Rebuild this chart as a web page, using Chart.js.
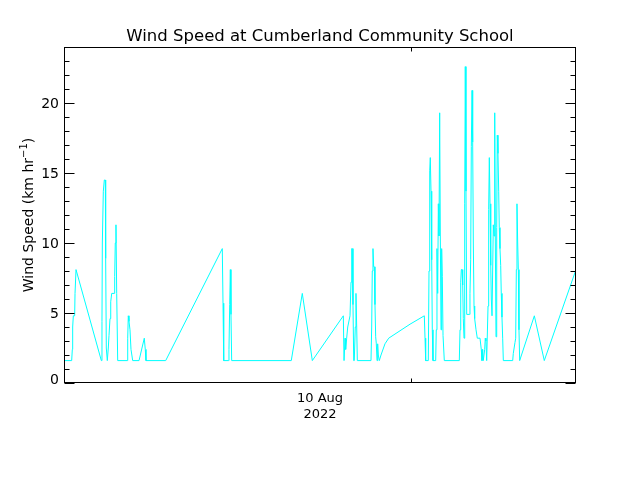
<!DOCTYPE html>
<html>
<head>
<meta charset="utf-8">
<title>Wind Speed at Cumberland Community School</title>
<script src="https://cdn.jsdelivr.net/npm/chart.js@4.4.0/dist/chart.umd.min.js"></script>
<style>
    html, body { margin: 0; padding: 0; background: #ffffff; }
    canvas { display: block; }
</style>
</head>
<body>
<canvas id="windChart" width="640" height="480"></canvas>
<script>
// === Data ===
// Time in hours from the left edge of the axis (axis spans 72 hours).
const timeHours = [
    0.14, 1.08, 1.17, 1.22, 1.31, 1.50, 1.55, 1.69,
    5.25, 5.34, 5.39, 5.53, 5.67, 5.81, 5.86, 5.95, 6.09, 6.23, 6.33, 6.47, 6.57, 6.71,
    7.07, 7.13, 7.21, 7.31, 7.41, 7.55,
    8.90, 8.96, 9.04, 9.14, 9.28, 9.42, 9.66,
    10.55, 11.29, 11.43, 11.53, 14.30,
    22.26, 22.36, 22.46, 23.10, 23.20, 23.30, 23.39, 23.48, 23.58,
    31.96, 33.51, 34.92,
    39.28, 39.38, 39.52, 39.61, 39.75, 39.90, 40.22, 40.36, 40.46, 40.54, 40.64, 40.74,
    40.82, 40.96, 41.06, 41.16, 41.25,
    43.17, 43.27, 43.35, 43.45, 43.55, 43.64, 43.73, 43.83, 43.92, 44.02, 44.11, 44.20,
    44.34, 44.58, 45.14, 45.66, 48.66,
    50.67, 50.77, 50.86, 51.23, 51.33, 51.43, 51.51, 51.61, 51.71, 51.79, 51.89,
    52.27, 52.35, 52.45, 52.55, 52.64, 52.73, 52.83, 52.92, 53.02, 53.11, 53.20, 53.30,
    53.39, 53.48,
    55.59, 55.69, 55.79, 55.87, 55.97, 56.07, 56.15, 56.25, 56.35, 56.43, 56.53, 56.63,
    57.00, 57.09, 57.19, 57.28, 57.38, 57.47, 57.56, 57.66, 57.75, 57.94, 58.12,
    58.50, 58.68, 58.78, 58.88, 58.96, 59.16, 59.24, 59.34, 59.44,
    59.63, 59.72, 59.81, 59.91, 60.01, 60.09, 60.19, 60.29, 60.37, 60.47, 60.57, 60.65,
    60.75, 60.85, 60.93, 61.03, 61.13, 61.21, 61.31, 61.41, 61.49, 61.59, 61.69, 61.78,
    63.10, 63.18, 63.42, 63.52, 63.61, 63.70, 63.80, 63.89, 63.98, 64.08,
    66.14, 67.54, 72.00
];

// Wind speed in km/hr, one value per entry in timeHours.
const windSpeed = [
    1.6, 1.6, 2.4, 4.0, 4.8, 4.8, 6.4, 8.1,
    1.6, 4.4, 10.0, 13.7, 14.5, 14.5, 8.9, 2.5, 1.6, 2.5, 3.4, 4.6, 5.8, 6.4,
    6.4, 7.6, 10.0, 11.3, 6.4, 1.6,
    1.6, 3.2, 4.8, 4.4, 3.8, 2.4, 1.6,
    1.6, 3.2, 2.4, 1.6, 1.6,
    9.6, 5.7, 1.6, 1.6, 2.4, 5.6, 8.1, 4.9, 1.6,
    1.6, 6.4, 1.6,
    4.8, 1.6, 3.2, 2.4, 3.2, 4.0, 4.8, 7.2, 9.6, 9.6, 5.6, 1.6,
    1.6, 4.0, 6.4, 4.0, 1.6,
    1.6, 4.0, 8.0, 9.6, 8.3, 8.3, 5.6, 3.3, 2.8, 1.6, 2.8, 2.0,
    1.6, 2.0, 2.8, 3.2, 4.2,
    4.8, 3.2, 1.6, 1.6, 8.0, 15.2, 16.1, 13.7, 8.8, 3.8, 1.6,
    1.6, 3.8, 9.6, 6.4, 12.8, 10.5, 19.3, 10.5, 3.8, 9.6, 7.6, 3.4,
    3.4, 1.6,
    1.6, 3.8, 7.2, 8.1, 8.1, 7.0, 4.6, 3.2, 12.8, 22.6, 13.7, 4.9,
    4.9, 6.4, 8.8, 16.9, 20.9, 17.2, 10.0, 5.5, 4.6, 3.8, 3.2,
    3.2, 2.4, 1.6, 2.4, 1.6, 2.4, 3.2, 3.0, 1.6,
    5.5, 12.4, 16.1, 12.8, 8.4, 6.0, 4.8, 4.8, 11.3, 10.5, 19.3, 10.5,
    3.3, 11.1, 17.7, 16.4, 13.7, 11.1, 9.6, 8.4, 6.4, 4.7, 3.2, 1.6,
    1.6, 2.1, 2.9, 3.2, 8.1, 12.8, 10.0, 8.1, 3.8, 1.6,
    4.8, 1.6, 8.1
];

// === Axis ticks and labels ===
const xRange = [0, 72];
const yRange = [0, 24];
const yMajorTicks = [0, 5, 10, 15, 20];
const yMinorStep = 1;
const xTickHours = [48.84];          // unlabelled day tick
const xLabelHour = 36;               // centre of the labelled day
const xLabelLines = ["10 Aug", "2022"];
const chartTitle = "Wind Speed at Cumberland Community School";

const FONT = '"DejaVu Sans", sans-serif';

// === Draws the IDL-style frame, inward ticks and all the text ===
const idlAxesPlugin = {
    id: "idlAxes",
    afterDraw(chart) {
        const ctx = chart.ctx;
        const area = chart.chartArea;
        const xs = chart.scales.x;
        const ys = chart.scales.y;
        const left = Math.round(area.left) + 0.5;
        const right = Math.round(area.right) - 0.5;
        const top = Math.round(area.top) + 0.5;
        const bottom = Math.round(area.bottom) - 0.5;

        ctx.save();
        ctx.strokeStyle = "#000";
        ctx.lineWidth = 1;

        // frame
        ctx.strokeRect(left, top, right - left, bottom - top);

        // y ticks, both sides, pointing inward
        ctx.beginPath();
        for (let v = yRange[0]; v <= yRange[1]; v += yMinorStep) {
            const y = Math.round(ys.getPixelForValue(v)) + 0.5;
            const len = yMajorTicks.includes(v) ? 10 : 5;
            ctx.moveTo(left, y);  ctx.lineTo(left + len, y);
            ctx.moveTo(right, y); ctx.lineTo(right - len, y);
        }
        // x ticks, top and bottom
        xTickHours.forEach(h => {
            const x = Math.round(xs.getPixelForValue(h)) + 0.5;
            ctx.moveTo(x, bottom); ctx.lineTo(x, bottom - 4);
            ctx.moveTo(x, top);    ctx.lineTo(x, top + 4);
        });
        ctx.stroke();

        ctx.fillStyle = "#000";

        // y tick labels (the zero label sits a little above the frame)
        ctx.font = "14px " + FONT;
        ctx.textAlign = "right";
        ctx.textBaseline = "middle";
        yMajorTicks.forEach(v => {
            const dy = v === 0 ? -3 : 1;
            ctx.fillText(String(v), 59, ys.getPixelForValue(v) + dy);
        });

        // x label (two lines)
        ctx.font = "13px " + FONT;
        ctx.textAlign = "center";
        ctx.textBaseline = "alphabetic";
        const xl = xs.getPixelForValue(xLabelHour);
        ctx.fillText(xLabelLines[0], xl, 402);
        ctx.fillText(xLabelLines[1], xl, 418);

        // title
        ctx.font = "16.5px " + FONT;
        ctx.fillText(chartTitle, (left + right) / 2, 41);

        // y axis title with superscript
        const main = "Wind Speed (km hr";
        const sup = "\u22121";
        const close = ")";
        ctx.font = "14px " + FONT;
        const wMain = ctx.measureText(main).width;
        const wClose = ctx.measureText(close).width;
        ctx.font = "10px " + FONT;
        const wSup = ctx.measureText(sup).width;
        const total = wMain + wSup + wClose;

        ctx.translate(33, (top + bottom) / 2);
        ctx.rotate(-Math.PI / 2);
        ctx.textAlign = "left";
        let pos = -total / 2;
        ctx.font = "14px " + FONT;
        ctx.fillText(main, pos, 0);
        pos += wMain;
        ctx.font = "10px " + FONT;
        ctx.fillText(sup, pos, -6);
        pos += wSup;
        ctx.font = "14px " + FONT;
        ctx.fillText(close, pos, 0);

        ctx.restore();
    }
};

// === Build the chart ===
const points = timeHours.map((t, i) => ({ x: t, y: windSpeed[i] }));

new Chart(document.getElementById("windChart").getContext("2d"), {
    type: "line",
    data: {
        datasets: [{
            data: points,
            borderColor: "#00ffff",
            borderWidth: 1,
            pointRadius: 0,
            tension: 0,
            fill: false
        }]
    },
    options: {
        responsive: false,
        animation: false,
        devicePixelRatio: 1,
        layout: { padding: { left: 64, right: 64, top: 47, bottom: 97 } },
        plugins: {
            legend: { display: false },
            tooltip: { enabled: false }
        },
        scales: {
            x: { type: "linear", display: false, min: xRange[0], max: xRange[1] },
            y: { display: false, min: yRange[0], max: yRange[1] }
        }
    },
    plugins: [idlAxesPlugin]
});
</script>
</body>
</html>
